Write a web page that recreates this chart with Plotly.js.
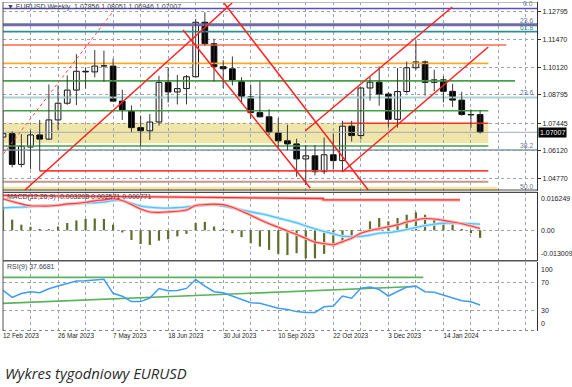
<!DOCTYPE html>
<html><head><meta charset="utf-8">
<script src="https://cdn.plot.ly/plotly-3.0.1.min.js"></script>
<style>html,body{margin:0;padding:0;background:#fff;}#chart{width:572px;height:387px;}</style>
</head><body><div id="chart"></div>
<script>
// ---------- DATA ----------
const weekIdx = Array.from({length:53},(_,i)=>i); // 12 Feb 2023 ... 11 Feb 2024 (weekly bars)
const opens  = [1.0678,1.0694,1.0547,1.0630,1.0688,1.0668,1.0760,1.0840,1.0903,1.0993,1.0990,1.1018,1.1018,1.0850,1.0805,1.0723,1.0708,1.0750,1.0940,1.0894,1.0910,1.0967,1.1228,1.1125,1.1015,1.1005,1.0948,1.0872,1.0795,1.0775,1.0700,1.0660,1.0645,1.0573,1.0588,1.0512,1.0593,1.0565,1.0730,1.0685,1.0913,1.0941,1.0884,1.0763,1.0896,1.1010,1.1038,1.0940,1.0952,1.0897,1.0855,1.0786,1.07856];
const highs  = [1.0804,1.0705,1.0692,1.0710,1.0760,1.0930,1.0925,1.0973,1.1075,1.1012,1.1095,1.1092,1.1054,1.0905,1.0830,1.0780,1.0788,1.0971,1.1012,1.0976,1.0975,1.1244,1.1276,1.1149,1.1046,1.1064,1.0965,1.0930,1.0945,1.0811,1.0769,1.0737,1.0670,1.0640,1.0640,1.0676,1.0695,1.0756,1.0756,1.0914,1.0966,1.1017,1.0894,1.1009,1.1040,1.1140,1.1045,1.1000,1.0970,1.0933,1.0895,1.0810,1.08051];
const lows   = [1.0613,1.0533,1.0533,1.0524,1.0516,1.0665,1.0713,1.0832,1.0831,1.0910,1.0964,1.0942,1.0846,1.0760,1.0702,1.0635,1.0664,1.0733,1.0843,1.0834,1.0834,1.0962,1.1116,1.0944,1.0912,1.0925,1.0845,1.0766,1.0771,1.0686,1.0631,1.0615,1.0488,1.0448,1.0495,1.0500,1.0522,1.0516,1.0656,1.0667,1.0852,1.0828,1.0723,1.0723,1.0886,1.1000,1.0877,1.0897,1.0844,1.0822,1.0780,1.0722,1.06946];
const closes = [1.0694,1.0547,1.0634,1.0688,1.0668,1.0760,1.0840,1.0903,1.0993,1.0990,1.1018,1.1018,1.0850,1.0805,1.0723,1.0708,1.0750,1.0940,1.0894,1.0910,1.0967,1.1228,1.1125,1.1015,1.1005,1.0948,1.0872,1.0795,1.0775,1.0700,1.0660,1.0645,1.0573,1.0588,1.0512,1.0593,1.0565,1.0730,1.0685,1.0913,1.0941,1.0884,1.0763,1.0896,1.1010,1.1038,1.0940,1.0952,1.0897,1.0855,1.0786,1.0784,1.07007];

const macdHist = [0.0090,0.0045,0.0024,0.0015,0.0006,0.0005,0.0016,0.0031,0.0042,0.0048,0.0050,0.0048,0.0024,-0.0009,-0.0041,-0.0058,-0.0062,-0.0044,-0.0038,-0.0026,-0.0015,0.0031,0.0036,0.0016,0.0006,-0.0012,-0.0029,-0.0055,-0.0069,-0.0083,-0.0100,-0.0105,-0.0097,-0.0119,-0.0119,-0.0100,-0.0069,-0.0055,-0.0033,-0.0003,0.0038,0.0052,0.0038,0.0052,0.0066,0.0076,0.0066,0.0052,0.0045,0.0031,0.0006,-0.0012,-0.0032];
const macdRed  = [0.0134,0.0122,0.0112,0.0104,0.0103,0.0103,0.0106,0.0112,0.0114,0.0119,0.0125,0.0129,0.0134,0.0126,0.0109,0.0090,0.0078,0.0076,0.0078,0.0081,0.0086,0.0105,0.0109,0.0111,0.0109,0.0098,0.0081,0.0064,0.0045,0.0028,0.0013,-0.0003,-0.0018,-0.0034,-0.0050,-0.0056,-0.0061,-0.0048,-0.0034,-0.0012,-0.0001,0.0007,0.0015,0.0023,0.0035,0.0044,0.0050,0.0048,0.0042,0.0035,0.0028,0.0018,0.0008];
const macdBlue = [0.0095,0.0097,0.0098,0.0101,0.0104,0.0105,0.0107,0.0109,0.0112,0.0115,0.0117,0.0120,0.0126,0.0126,0.0115,0.0103,0.0098,0.0095,0.0094,0.0096,0.0099,0.0103,0.0106,0.0107,0.0103,0.0095,0.0087,0.0078,0.0071,0.0062,0.0052,0.0042,0.0032,0.0019,0.0006,-0.0005,-0.0015,-0.0025,-0.0027,-0.0026,-0.0020,-0.0012,-0.0010,-0.0004,0.0003,0.0012,0.0020,0.0026,0.0030,0.0030,0.0030,0.0028,0.0026];
const rsi9 = [59.1,48.8,54.3,56.8,55.5,61.3,65.2,69.1,72.5,72.9,74.2,74.9,54.6,50.3,42.6,42.6,47.8,61.6,58.4,58.6,61.7,74.6,65.2,57.0,55.5,50.4,46.1,41.0,40.1,36.1,32.9,31.3,28.1,26.7,26.8,35.1,36.2,50.7,47.5,62.0,63.8,60.1,50.7,57.2,63.8,65.2,57.0,56.1,52.2,48.1,43.9,42.3,37.7];

const xTickIdx  = [0,6,12,18,24,30,36,42,48];
const xTickText = ['12 Feb 2023','26 Mar 2023','7 May 2023','18 Jun 2023','30 Jul 2023','10 Sep 2023','22 Oct 2023','3 Dec 2023','14 Jan 2024'];
const priceTicks = [1.12795,1.11470,1.10120,1.08795,1.07445,1.06120,1.04770];
const priceTickText = ['1.12795','1.11470','1.10120','1.08795','1.07445','1.06120','1.04770'];
const lastPrice = 1.07007;

// horizontal levels: price, from index, to index
const levelPrice = [1.1294,1.1216,1.1183,1.1119,1.1031,1.0947,1.0868,1.0804,1.0744,1.0635,1.0616,1.0516,1.0464];
const levelFrom  = [-1,-1,-1,-1,-1,-1,-1,-1,37,-1,-1,4,-1];
const levelTo    = [60,60,60,54.85,52.9,55.8,60,52.9,52.9,52.9,60,52.9,52.9];
const bandLow  = [1.0648,1.0418];
const bandHigh = [1.0747,1.0440];
const bandTo   = [52.9,53.9];
// trend lines [x0,p0,x1,p1]
const trendX0 = [2.4,23.83,19.63,32.93,36.97];
const trendP0 = [1.04242,1.13346,1.11909,1.07069,1.05105];
const trendX1 = [24.97,39.8,33.48,48.96,52.89];
const trendP1 = [1.13202,1.04242,1.04338,1.13011,1.11094];
const dottedX = [-0.33,11.9], dottedP = [1.0576,1.1274];
const fibText  = ['0.0','23.6','61.8','23.6','38.2','50.0'];
const fibPrice = [1.1294,1.1216,1.1183,1.0868,1.0616,1.0420];
const macdTrendX = [0,34.9,34.9,49.8], macdTrendV = [0.0148,0.0135,0.0129,0.0129];
const rsiHorizX = [0,45.8], rsiHorizV = [77.8,77.8];
const rsiTrendX = [0,44.9], rsiTrendV = [40.1,64.5];

// ---------- STYLES ----------
const levelColor = ['#5e50b0','#6d6ca6','#2d8f8f','#ff6a4d','#ffa824','#47a047','#a9d2d2','#47a047','#ff3030','#47a047','#8796a8','#ff4040','#c59886'];
const levelWidth = [1.4,3,1.6,1.6,1.6,1.6,2,1.6,1.4,1.6,1.4,1.6,2];
const gridC = '#99a3b3';
const F = 'Liberation Sans, Arial, sans-serif';

const traces = [];
levelPrice.forEach((p,k)=>{
  traces.push({x:[levelFrom[k],levelTo[k]],y:[p,p],xaxis:'x',yaxis:'y',mode:'lines',
    line:{color:levelColor[k],width:levelWidth[k]},hoverinfo:'skip'});
});
traces.push({x:[-1,60],y:[lastPrice,lastPrice],xaxis:'x',yaxis:'y',mode:'lines',line:{color:'#a4acb6',width:1},hoverinfo:'skip'});

// candles: wicks then bodies
const wx=[],wy=[];
weekIdx.forEach(i=>{wx.push(i,i,null);wy.push(lows[i],highs[i],null);});
traces.push({x:wx,y:wy,xaxis:'x',yaxis:'y',mode:'lines',line:{color:'#3a3a3a',width:1},hoverinfo:'skip'});
traces.push({type:'bar',x:weekIdx,
  base:weekIdx.map(i=>Math.min(opens[i],closes[i])),
  y:weekIdx.map(i=>Math.max(Math.abs(closes[i]-opens[i]),0.00018)),
  width:0.62,xaxis:'x',yaxis:'y',
  marker:{color:weekIdx.map(i=>closes[i]>=opens[i]?'#ffffff':'#000000'),line:{color:'#111',width:1}},hoverinfo:'skip'});

// trend lines
trendX0.forEach((x0,k)=>{
  traces.push({x:[x0,trendX1[k]],y:[trendP0[k],trendP1[k]],xaxis:'x',yaxis:'y',mode:'lines',line:{color:'#ff2020',width:1.5},hoverinfo:'skip'});
});
traces.push({x:dottedX,y:dottedP,xaxis:'x',yaxis:'y',mode:'lines',line:{color:'#ff4040',width:1,dash:'dot'},hoverinfo:'skip'});

// MACD
traces.push({type:'bar',x:weekIdx,y:macdHist,width:0.24,xaxis:'x',yaxis:'y2',marker:{color:'#5d6e2c',line:{width:0}},hoverinfo:'skip'});
traces.push({x:macdTrendX,y:macdTrendV,xaxis:'x',yaxis:'y2',mode:'lines',line:{color:'#ffb3b3',width:3},hoverinfo:'skip'});
traces.push({x:macdTrendX,y:macdTrendV,xaxis:'x',yaxis:'y2',mode:'lines',line:{color:'#ff3030',width:1.3},hoverinfo:'skip'});
traces.push({x:weekIdx,y:macdBlue,xaxis:'x',yaxis:'y2',mode:'lines',line:{color:'#bfe8ff',width:3,shape:'spline'},hoverinfo:'skip'});
traces.push({x:weekIdx,y:macdBlue,xaxis:'x',yaxis:'y2',mode:'lines',line:{color:'#55c3f5',width:1.3,shape:'spline'},hoverinfo:'skip'});
traces.push({x:weekIdx,y:macdRed,xaxis:'x',yaxis:'y2',mode:'lines',line:{color:'#ffb8b8',width:3,shape:'spline'},hoverinfo:'skip'});
traces.push({x:weekIdx,y:macdRed,xaxis:'x',yaxis:'y2',mode:'lines',line:{color:'#ff3a3a',width:1.1,shape:'spline'},hoverinfo:'skip'});

// RSI
traces.push({x:rsiHorizX,y:rsiHorizV,xaxis:'x',yaxis:'y3',mode:'lines',line:{color:'#5cb35c',width:1.6},hoverinfo:'skip'});
traces.push({x:rsiTrendX,y:rsiTrendV,xaxis:'x',yaxis:'y3',mode:'lines',line:{color:'#5cb35c',width:1.6},hoverinfo:'skip'});
traces.push({x:weekIdx,y:rsi9,xaxis:'x',yaxis:'y3',mode:'lines',line:{color:'#3f9cf2',width:1.5},hoverinfo:'skip'});

// ---------- LAYOUT ----------
const shapes = [];
bandLow.forEach((lo,k)=>{
  shapes.push({type:'rect',xref:'x',yref:'y',x0:-1,x1:bandTo[k],y0:lo,y1:bandHigh[k],fillcolor:'#f1e6a9',line:{width:0},layer:'below'});
});
const sep = (py,c,w,d)=>({type:'line',xref:'paper',yref:'paper',x0:0,x1:1,y0:(331-py)/329,y1:(331-py)/329,line:{color:c,width:w,dash:d||'solid'}});
shapes.push(sep(2.5,'#b8b8b8',1));
shapes.push(sep(190,'#4a4a4a',1.2));
shapes.push(sep(192.3,'#4a4a4a',1.2));
shapes.push(sep(260.8,'#555',1.6));
shapes.push(sep(330.5,'#888',1,'dot'));
shapes.push({type:'line',xref:'paper',yref:'paper',x0:0,x1:0,y0:0,y1:1,line:{color:'#555',width:1}});

const ann = [];
const hdr = (py,t)=>({xref:'paper',yref:'paper',x:0.004,y:(331-py)/329,xanchor:'left',yanchor:'middle',text:t,showarrow:false,font:{family:F,size:7,color:'#3c4250'}});
ann.push(hdr(6.5,'▼ EURUSD,Weekly  1.07856 1.08051 1.06946 1.07007'));
ann.push(hdr(197.5,'MACD(12,26,9) -0.003208 0.002571 0.000771'));
ann.push(hdr(267,'RSI(9) 37.6681'));
fibText.forEach((t,k)=>{
  ann.push({xref:'x',yref:'y',x:58.0,y:fibPrice[k],xanchor:'right',yanchor:'bottom',text:t,showarrow:false,yshift:-1,
    font:{family:F,size:6.8,color:k===2?'#2d8f8f':'#6b7890'}});
});
ann.push({xref:'paper',yref:'y',x:1,y:lastPrice,xanchor:'left',yanchor:'middle',xshift:1,text:'1.07007',showarrow:false,
  bgcolor:'#000',borderpad:1,font:{family:F,size:7,color:'#fff'}});
const rl = (yr,v,t,ya,ys)=>({xref:'paper',yref:yr,x:1,y:v,xanchor:'left',yanchor:ya,xshift:2,yshift:ys||0,text:t,showarrow:false,font:{family:F,size:7,color:'#222'}});
ann.push(rl('y2',0.016249,'0.016249','top',-1.5));
ann.push(rl('y2',0,'0.00','middle'));
ann.push(rl('y2',-0.013009,'-0.013009','bottom',2));
ann.push(rl('y3',100,'100','top',-1.5));
ann.push(rl('y3',70,'70','middle'));
ann.push(rl('y3',30,'30','middle'));
ann.push(rl('y3',0,'0','bottom',1.5));
ann.push({xref:'paper',yref:'paper',x:0,y:(331-373)/329,xanchor:'left',yanchor:'middle',xshift:0,
  text:'<i>Wykres tygodniowy EURUSD</i>',showarrow:false,font:{family:'Open Sans, sans-serif',size:14.8,color:'#2a2a2a'}});

const axY = {side:'right',zeroline:false,showline:true,linecolor:'#333',linewidth:1,fixedrange:true,
  showgrid:true,gridcolor:gridC,griddash:'dot',gridwidth:1};
const layout = {
  width:572,height:387,margin:{l:3,r:35,t:2,b:56,pad:0},
  paper_bgcolor:'#fff',plot_bgcolor:'#fff',showlegend:false,barmode:'overlay',
  xaxis:{range:[0,58.2],anchor:'y3',tickvals:xTickIdx,ticktext:xTickText,ticklabelposition:'outside right',
    showgrid:true,gridcolor:gridC,griddash:'dot',gridwidth:1,zeroline:false,showline:false,ticks:'',
    minor:{tick0:0,dtick:3,showgrid:true,gridcolor:gridC,griddash:'dot',gridwidth:1},
    tickfont:{family:F,size:6.4,color:'#222'},fixedrange:true},
  yaxis:Object.assign({},axY,{domain:[0.4255,1],range:[1.04194,1.13250],tickvals:priceTicks,ticktext:priceTickText,
    ticks:'outside',ticklen:3,tickcolor:'#333',tickfont:{family:F,size:7,color:'#222'}}),
  yaxis2:Object.assign({},axY,{domain:[0.2128,0.4225],range:[-0.013009,0.016249],tickvals:[0],showticklabels:false}),
  yaxis3:Object.assign({},axY,{domain:[0,0.2097],range:[0,100],tickvals:[30,70],showticklabels:false}),
  shapes:shapes,annotations:ann
};
Plotly.newPlot('chart',traces,layout,{staticPlot:true,displayModeBar:false});
</script></body></html>
